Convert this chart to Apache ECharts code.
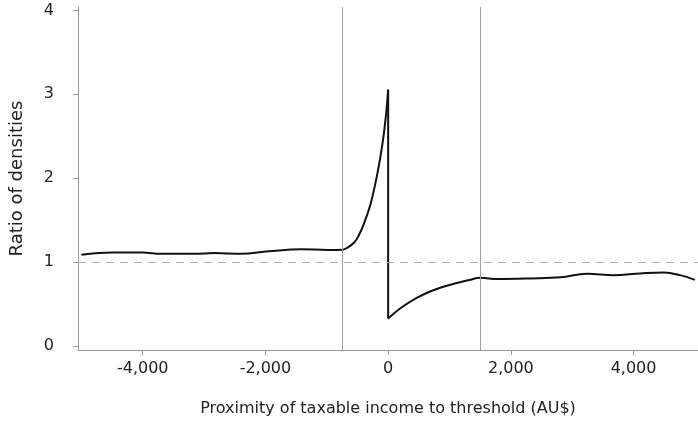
<!DOCTYPE html>
<html>
<head>
<meta charset="utf-8">
<script src="https://cdn.jsdelivr.net/npm/echarts@6/dist/echarts.min.js"></script>
<style>html,body{margin:0;padding:0;background:#fff}#c{width:698px;height:422px}</style>
</head>
<body>
<div id="c"></div>
<script>
// Proximity to threshold (AU$) and ratio of densities, below threshold
var belowX = [-5000,-4500,-4000,-3700,-3150,-2830,-2400,-1950,-1420,-980,-741,-689,-553,-472,-390,-281,-172,-91,-37,0];
var belowY = [1.09,1.115,1.115,1.10,1.10,1.11,1.10,1.13,1.156,1.147,1.15,1.164,1.235,1.33,1.47,1.71,2.07,2.42,2.74,3.056];
// above threshold
var aboveX = [0,206,450,694,860,1073,1300,1507,1779,2320,2808,3242,3675,4109,4488,4759,5000];
var aboveY = [0.33,0.455,0.57,0.655,0.70,0.745,0.785,0.815,0.80,0.807,0.82,0.862,0.845,0.867,0.879,0.847,0.79];
var xTicks = [-4000,-2000,0,2000,4000];
var yTicks = [0,1,2,3,4];
var refLinesX = [-741,1500];
var parityY = 1;

function zip(a,b){return a.map(function(v,i){return [v,b[i]];});}
var FONT = 'DejaVu Sans';
var chart = echarts.init(document.getElementById('c'));
chart.setOption({
  animation:false,
  grid:{left:76,right:0,top:7,bottom:71,containLabel:false},
  xAxis:{type:'value',min:-5055,max:5050,
    name:'Proximity of taxable income to threshold (AU$)',nameLocation:'middle',nameGap:51,
    nameTextStyle:{color:'#222',fontSize:16,fontFamily:FONT},
    axisLine:{show:true,onZero:false,lineStyle:{color:'#999',width:1}},
    axisTick:{show:true,length:5,customValues:xTicks,lineStyle:{color:'#999'}},
    axisLabel:{customValues:xTicks,color:'#222',fontSize:16,fontFamily:FONT,margin:11,
      formatter:function(v){return v.toLocaleString('en-US');}},
    splitLine:{show:false}},
  yAxis:{type:'value',min:-0.045,max:4.04,
    name:'Ratio of densities',nameLocation:'middle',nameGap:52,
    nameTextStyle:{color:'#222',fontSize:18,fontFamily:FONT},
    axisLine:{show:true,onZero:false,lineStyle:{color:'#999',width:1}},
    axisTick:{show:true,length:5,customValues:yTicks,lineStyle:{color:'#999'}},
    axisLabel:{customValues:yTicks,color:'#222',fontSize:16,fontFamily:FONT,margin:24},
    splitLine:{show:false}},
  series:[
    {type:'line',data:[],silent:true,
      markLine:{symbol:'none',silent:true,label:{show:false},
        data:refLinesX.map(function(v){return {xAxis:v,lineStyle:{color:'#a0a0a0',width:1,type:'solid'}};})
          .concat([{yAxis:parityY,lineStyle:{color:'#b0b0b0',width:1.2,type:[8,6]}}])}},
    {type:'line',data:zip(belowX,belowY),smooth:0.4,showSymbol:false,lineStyle:{color:'#111',width:2}},
    {type:'line',data:[[0,belowY[belowY.length-1]],[0,aboveY[0]]],showSymbol:false,lineStyle:{color:'#111',width:2}},
    {type:'line',data:zip(aboveX,aboveY),smooth:0.4,showSymbol:false,lineStyle:{color:'#111',width:2}}
  ]
});
</script>
</body>
</html>
